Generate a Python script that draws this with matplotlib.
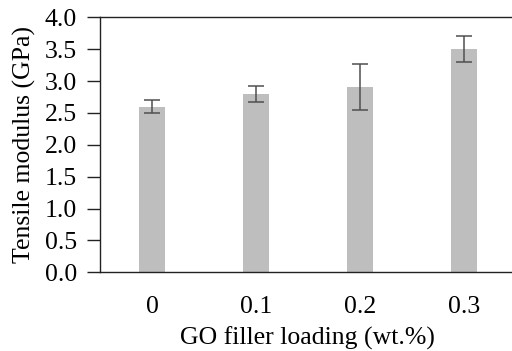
import matplotlib.pyplot as plt
import numpy as np

loadings = ['0', '0.1', '0.2', '0.3']
modulus = [2.6, 2.8, 2.9, 3.5]
modulus_err = [0.1, 0.125, 0.36, 0.2]
y_ticks = [0.0, 0.5, 1.0, 1.5, 2.0, 2.5, 3.0, 3.5, 4.0]

plt.rcParams['font.family'] = ['Liberation Serif', 'DejaVu Serif']

fig = plt.figure(figsize=(5.12, 3.51), dpi=100)
ax = fig.add_axes([100 / 512, 1 - 272.3 / 351, 415.6 / 512, 255 / 351])

x = np.arange(len(loadings))
ax.bar(x, modulus, width=0.25, color='#bebebe', zorder=2)
ax.errorbar(x, modulus, yerr=modulus_err, fmt='none', ecolor='#505050',
            elinewidth=1.1, capsize=5.5, capthick=1.1, zorder=3)

ax.set_xlim(-0.5, 3.5)
ax.set_ylim(0, 4.0)
ax.set_yticks(y_ticks)
ax.set_yticklabels([f'{v:.1f}' for v in y_ticks])
ax.set_xticks(x)
ax.set_xticklabels(loadings)

for side in ['left', 'bottom', 'top', 'right']:
    ax.spines[side].set_linewidth(1.0)
    ax.spines[side].set_color('#222222')

fs = 18.5
ax.tick_params(axis='y', direction='out', length=9.5, width=1.0, color='#222222',
               labelsize=fs, pad=7)
ax.tick_params(axis='x', length=0, labelsize=fs, pad=17)

ax.set_xlabel('GO filler loading (wt.%)', fontsize=fs, labelpad=6)
ax.set_ylabel('Tensile modulus (GPa)', fontsize=fs, labelpad=6)

fig.savefig('out.png', dpi=100)
